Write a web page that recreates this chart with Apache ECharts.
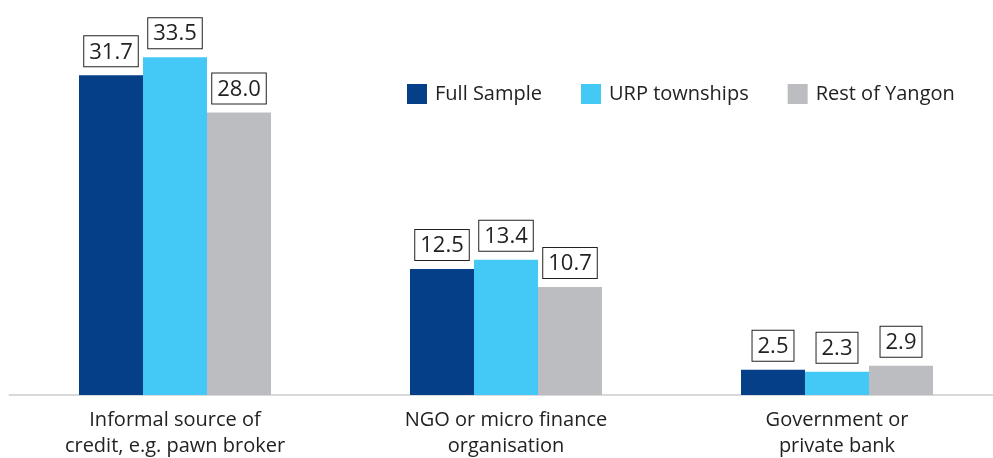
<!DOCTYPE html>
<html>
<head>
<meta charset="utf-8">
<script src="https://cdn.jsdelivr.net/npm/echarts@6/dist/echarts.min.js"></script>
<style>
  html, body { margin: 0; padding: 0; background: #fff; }
  #chart { width: 993px; height: 458px; }
</style>
</head>
<body>
<div id="chart"></div>
<script>
// categories and series values
const categories = [
  'Informal source of\ncredit, e.g. pawn broker',
  'NGO or micro finance\norganisation',
  'Government or\nprivate bank'
];
const fullSample = [31.7, 12.5, 2.5];
const urpTownships = [33.5, 13.4, 2.3];
const restOfYangon = [28.0, 10.7, 2.9];

const FONT = '"Open Sans"';

// boxed value label above each bar
const valueLabel = {
  show: true,
  position: 'top',
  distance: 9,
  formatter: p => p.value.toFixed(1),
  color: '#222',
  fontFamily: FONT,
  fontSize: 22,
  lineHeight: 24,
  borderColor: '#222',
  borderWidth: 1,
  padding: [4, 5, 2, 5],
  backgroundColor: '#fff'
};

function makeSeries(name, data, color) {
  return {
    name: name,
    type: 'bar',
    data: data,
    barWidth: 64,
    barGap: '0%',
    itemStyle: { color: color },
    label: valueLabel
  };
}

const option = {
  animation: false,
  backgroundColor: '#fff',
  legend: {
    top: 79,
    left: 402,
    itemWidth: 20,
    itemHeight: 20,
    itemGap: 39,
    icon: 'rect',
    textStyle: { fontFamily: FONT, fontSize: 20, color: '#222', padding: [0, 0, 0, 3] },
    data: ['Full Sample', 'URP townships', 'Rest of Yangon']
  },
  grid: {
    left: 9.5,
    width: 993,
    top: 42,
    bottom: 63,
    outerBoundsMode: 'none'
  },
  xAxis: {
    type: 'category',
    data: categories,
    axisTick: { show: false },
    axisLine: { lineStyle: { color: '#d9d9d9', width: 2 } },
    axisLabel: {
      margin: 12,
      fontFamily: FONT,
      fontSize: 20,
      lineHeight: 26,
      color: '#222'
    }
  },
  yAxis: {
    type: 'value',
    min: 0,
    max: 35,
    show: false,
    splitLine: { show: false }
  },
  series: [
    makeSeries('Full Sample', fullSample, '#043f88'),
    makeSeries('URP townships', urpTownships, '#44c8f5'),
    makeSeries('Rest of Yangon', restOfYangon, '#bcbdc0')
  ]
};

const myChart = echarts.init(document.getElementById('chart'));
myChart.setOption(option, true);
</script>
</body>
</html>
